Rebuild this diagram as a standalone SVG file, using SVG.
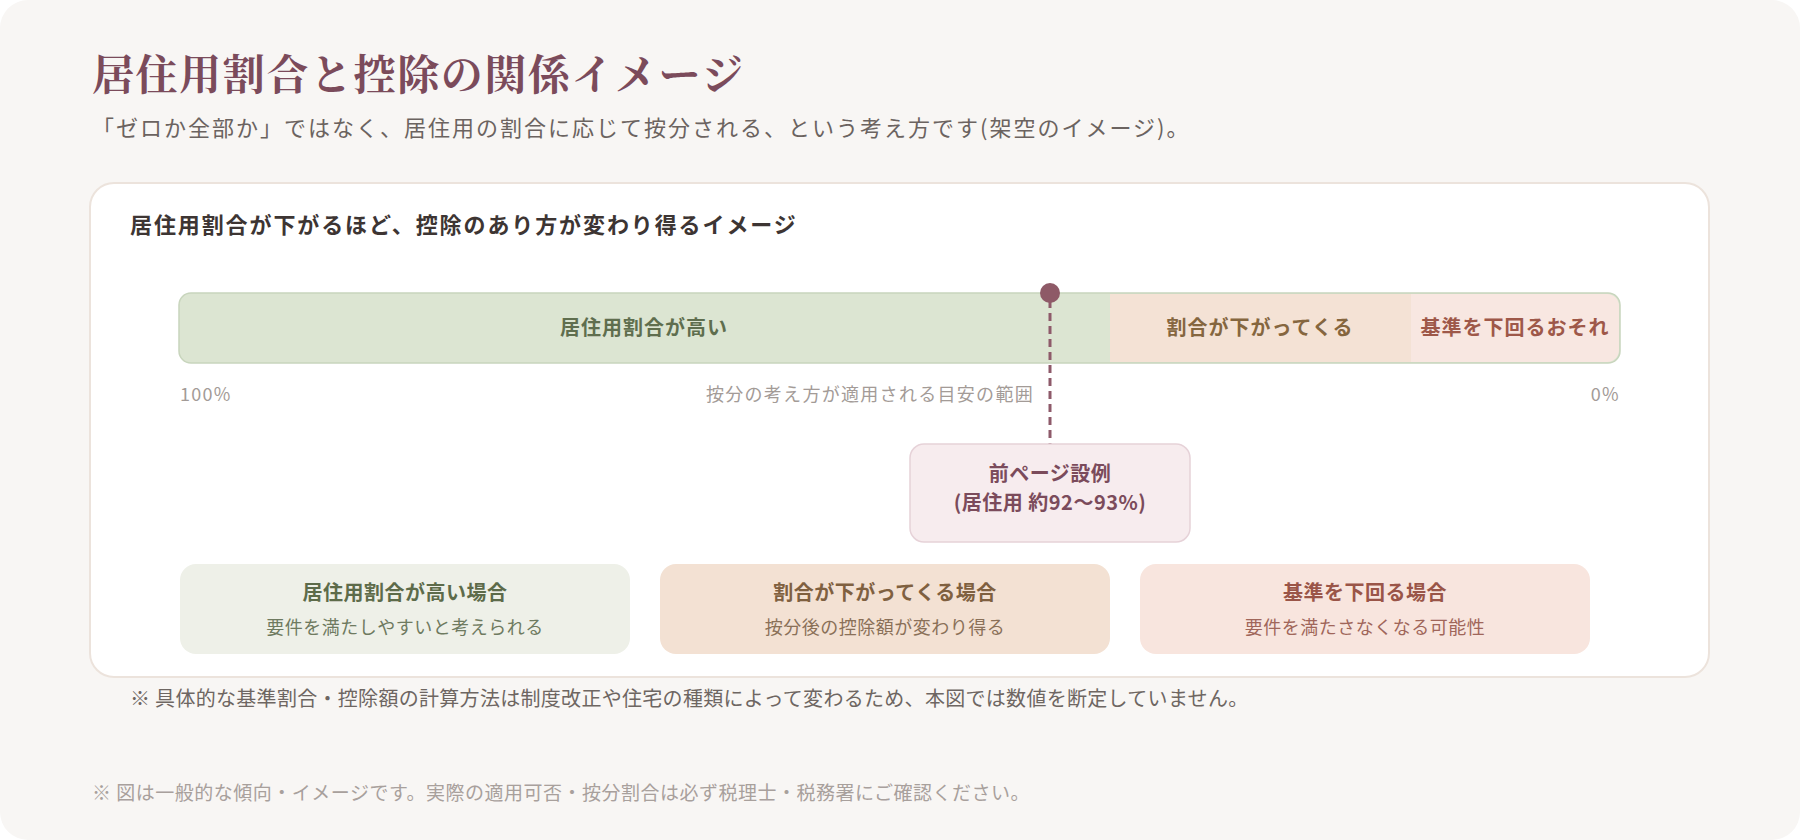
<svg xmlns="http://www.w3.org/2000/svg" width="1800" height="840" viewBox="0 0 1800 840">
<defs>
<style>
text{font-family:"Noto Sans CJK JP","Liberation Sans",sans-serif;}
.title{font-family:"Noto Serif CJK JP","Liberation Serif","Noto Sans CJK JP",serif;font-size:42px;font-weight:700;fill:#7b4b5b;letter-spacing:1.6px;}
.sub{font-size:22px;fill:#6b6360;letter-spacing:2px;}
.head{font-size:22px;font-weight:700;fill:#3d3533;letter-spacing:1.9px;}
.seg{font-size:20px;font-weight:700;text-anchor:middle;letter-spacing:1px;}
.axis{font-size:18px;fill:#a39b97;letter-spacing:1.3px;}
.ct{font-size:20px;font-weight:700;text-anchor:middle;letter-spacing:0.5px;}
.cs{font-size:18px;text-anchor:middle;letter-spacing:0.5px;}
.note1{font-size:20px;fill:#6e6662;letter-spacing:0.3px;}
.note2{font-size:19px;fill:#a8a09c;letter-spacing:0.5px;}
</style>
</defs>
<rect x="0" y="0" width="1800" height="840" fill="#ffffff"/>
<rect x="0" y="0" width="1800" height="840" rx="28" fill="#f8f6f4"/>
<text class="title" x="92" y="90">居住用割合と控除の関係イメージ</text>
<text class="sub" x="92" y="136">「ゼロか全部か」ではなく、居住用の割合に応じて按分される、という考え方です(架空のイメージ)。</text>
<g id="card">
<rect x="90" y="183" width="1619" height="494" rx="24" fill="#ffffff" stroke="#ece3dc" stroke-width="2"/>
<text class="head" x="130" y="233">居住用割合が下がるほど、控除のあり方が変わり得るイメージ</text>
</g>
<g id="bar">
<rect x="179" y="293" width="1441" height="70" rx="12" fill="#dce5d2"/>
<rect x="1110" y="294" width="301" height="68" fill="#f4e2d5"/>
<path d="M1411 294 H1607 A12 12 0 0 1 1619 306 V350 A12 12 0 0 1 1607 362 H1411 Z" fill="#f8e7e1"/>
<rect x="179" y="293" width="1441" height="70" rx="12" fill="none" stroke="#c8d5bd" stroke-width="1.5"/>
<text class="seg" x="644" y="335" fill="#5f6e4e">居住用割合が高い</text>
<text class="seg" x="1260" y="335" fill="#85663f">割合が下がってくる</text>
<text class="seg" x="1515" y="335" fill="#9e5849">基準を下回るおそれ</text>
</g>
<text class="axis" x="180" y="401">100%</text>
<text class="axis" x="1034" y="401" text-anchor="end">按分の考え方が適用される目安の範囲</text>
<text class="axis" x="1620" y="401" text-anchor="end">0%</text>
<g id="connectors">
<line x1="1050" y1="300" x2="1050" y2="444" stroke="#8e5a6a" stroke-width="3" stroke-dasharray="8 5"/>
</g>
<g id="marker">
<circle cx="1050" cy="293" r="10" fill="#8e5a67"/>
</g>
<g id="example">
<rect x="910" y="444" width="280" height="98" rx="14" fill="#f7ecee" stroke="#e6d2d8" stroke-width="1.5"/>
<text class="ct" x="1050" y="481" fill="#7b4b5b">前ページ設例</text>
<text class="ct" x="1050" y="510" fill="#7b4b5b">(居住用 約92〜93%)</text>
</g>
<g id="case-high">
<rect x="180" y="564" width="450" height="90" rx="16" fill="#eef0e8"/>
<text class="ct" x="405" y="600" fill="#5d6b4a">居住用割合が高い場合</text>
<text class="cs" x="405" y="634" fill="#6e7a60">要件を満たしやすいと考えられる</text>
</g>
<g id="case-mid">
<rect x="660" y="564" width="450" height="90" rx="16" fill="#f3e1d3"/>
<text class="ct" x="885" y="600" fill="#7f6040">割合が下がってくる場合</text>
<text class="cs" x="885" y="634" fill="#8a7058">按分後の控除額が変わり得る</text>
</g>
<g id="case-low">
<rect x="1140" y="564" width="450" height="90" rx="16" fill="#f8e5de"/>
<text class="ct" x="1365" y="600" fill="#9a5548">基準を下回る場合</text>
<text class="cs" x="1365" y="634" fill="#a0665a">要件を満たさなくなる可能性</text>
</g>
<text class="note1" x="130" y="706">※ 具体的な基準割合・控除額の計算方法は制度改正や住宅の種類によって変わるため、本図では数値を断定していません。</text>
<text class="note2" x="92" y="800">※ 図は一般的な傾向・イメージです。実際の適用可否・按分割合は必ず税理士・税務署にご確認ください。</text>
</svg>
